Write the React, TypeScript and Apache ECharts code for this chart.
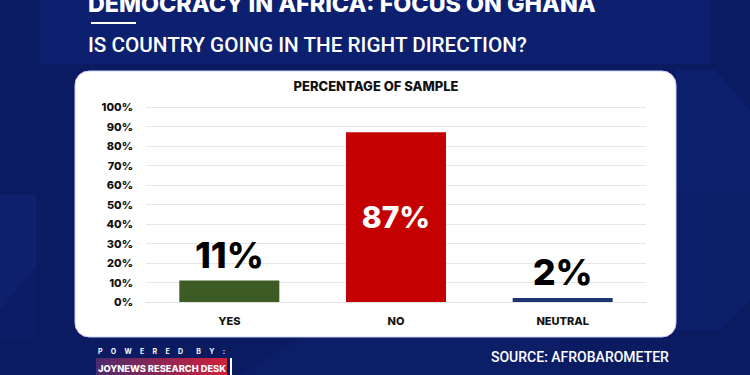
import React, { useEffect, useRef } from "react";
import * as echarts from "echarts";

const categories = ["YES", "NO", "NEUTRAL"];
const values = [11, 87, 2];
const barColors = ["#3d5b24", "#c40000", "#1c3570"];
const yTicks = [0, 10, 20, 30, 40, 50, 60, 70, 80, 90, 100];

const TITLE = "DEMOCRACY IN AFRICA: FOCUS ON GHANA";
const SUBTITLE = "IS COUNTRY GOING IN THE RIGHT DIRECTION?";
const PANEL_TITLE = "PERCENTAGE OF SAMPLE";
const SOURCE = "SOURCE: AFROBAROMETER";
const GAP = "\u00a0\u00a0\u00a0\u00a0\u00a0";
const WORD_GAP = "\u00a0\u00a0\u00a0\u00a0\u00a0\u00a0\u00a0\u00a0";
const POWERED = ["P", "O", "W", "E", "R", "E", "D"].join(GAP) + WORD_GAP + ["B", "Y", ":"].join(GAP);
const DESK = "JOYNEWS RESEARCH DESK";

const FONT = "Inter, 'Open Sans', sans-serif";

export default function App() {
  const ref = useRef<HTMLDivElement>(null);
  useEffect(() => {
    document.body.style.margin = "0";
    const chart = echarts.init(ref.current!, null, { renderer: "svg" });
    const option: any = {
      animation: false,
      backgroundColor: "#0b1b62",
      graphic: [
        // background pattern
        { type: "polygon", z: -20, shape: { points: [[40, 0], [710, 0], [710, 64], [40, 64]] }, style: { fill: "#0d2070" } },
        { type: "polygon", z: -20, shape: { points: [[0, 195], [36, 195], [36, 310], [0, 310]] }, style: { fill: "#0e206e" } },
        { type: "polygon", z: -20, shape: { points: [[0, 310], [36, 265], [36, 340], [0, 340]] }, style: { fill: "#0c1c66" } },
        { type: "polygon", z: -20, shape: { points: [[676, 70], [715, 70], [750, 110], [750, 190], [676, 190]] }, style: { fill: "#0d206e" } },
        { type: "polygon", z: -20, shape: { points: [[676, 190], [750, 190], [750, 300], [720, 330], [676, 330]] }, style: { fill: "#0d1f6b" } },
        { type: "polygon", z: -20, shape: { points: [[240, 375], [300, 338], [560, 338], [560, 375]] }, style: { fill: "#0d1e69" } },
        // white panel
        { type: "rect", z: -10, shape: { x: 75, y: 71, width: 601, height: 266, r: 14 }, style: { fill: "#ffffff", stroke: "#c9d0ee", lineWidth: 1 } },
        // header texts
        { type: "text", z: 10, style: { text: TITLE, x: 88, y: 15, fill: "#ffffff", font: `800 23.3px ${FONT}`, textVerticalAlign: "bottom", textBaseline: "bottom" } },
        { type: "rect", z: 10, shape: { x: 91, y: 22, width: 45, height: 2 }, style: { fill: "#ffffff" } },
        { type: "text", z: 10, style: { text: SUBTITLE, x: 88, y: 45, fill: "#ffffff", font: `500 20.7px Roboto, sans-serif`, textVerticalAlign: "middle", textBaseline: "middle" } },
        // footer
        { type: "text", z: 10, style: { text: POWERED, x: 98, y: 351, fill: "#ffffff", font: `bold 7px ${FONT}`, textVerticalAlign: "middle", textBaseline: "middle" } },
        {
          type: "rect", z: 10, shape: { x: 96, y: 358, width: 131, height: 20 },
          style: { fill: new echarts.graphic.LinearGradient(0, 0, 1, 0, [{ offset: 0, color: "#4b2c6e" }, { offset: 1, color: "#d2203a" }]) },
        },
        { type: "rect", z: 10, shape: { x: 230, y: 358, width: 2, height: 17 }, style: { fill: "#ffffff" } },
        { type: "text", z: 11, style: { text: DESK, x: 162, y: 368, fill: "#ffffff", font: `800 9.3px ${FONT}`, textAlign: "center", textVerticalAlign: "middle", textBaseline: "middle" } },
        { type: "text", z: 10, style: { text: SOURCE, x: 491, y: 357, fill: "#ffffff", font: `500 14px Roboto, sans-serif`, textVerticalAlign: "middle", textBaseline: "middle" } },
        // panel title
        { type: "text", z: 10, style: { text: PANEL_TITLE, x: 376, y: 86, fill: "#111111", font: `800 13px ${FONT}`, textAlign: "center", textVerticalAlign: "middle", textBaseline: "middle" } },
      ],
      grid: { left: 146, right: 104, top: 107, bottom: 73 },
      xAxis: {
        type: "category",
        data: categories,
        axisLine: { show: true, lineStyle: { color: "#e3e3e3" } },
        axisTick: { show: false },
        axisLabel: { color: "#151515", fontFamily: FONT, fontWeight: 800, fontSize: 11, margin: 13 },
      },
      yAxis: {
        type: "value",
        min: yTicks[0],
        max: yTicks[yTicks.length - 1],
        interval: yTicks[1] - yTicks[0],
        axisLine: { show: false },
        axisTick: { show: false },
        splitLine: { lineStyle: { color: "#e6e6e6" } },
        axisLabel: { formatter: "{value}%", color: "#111", fontFamily: FONT, fontWeight: 800, fontSize: 11, margin: 13 },
      },
      series: [
        {
          type: "bar",
          barWidth: "60%",
          data: values.map((v, i) => ({
            value: v,
            itemStyle: { color: barColors[i] },
            label:
              v > 50
                ? { show: true, position: "inside", color: "#ffffff", fontSize: 30, fontWeight: 800, fontFamily: FONT, formatter: "{c}%" }
                : { show: true, position: "top", distance: 8, color: "#000000", fontSize: 36, fontWeight: 800, fontFamily: FONT, formatter: "{c}%" },
          })),
        },
      ],
    };
    chart.setOption(option);
    return () => chart.dispose();
  }, []);
  return <div ref={ref} style={{ width: 750, height: 375 }} />;
}
